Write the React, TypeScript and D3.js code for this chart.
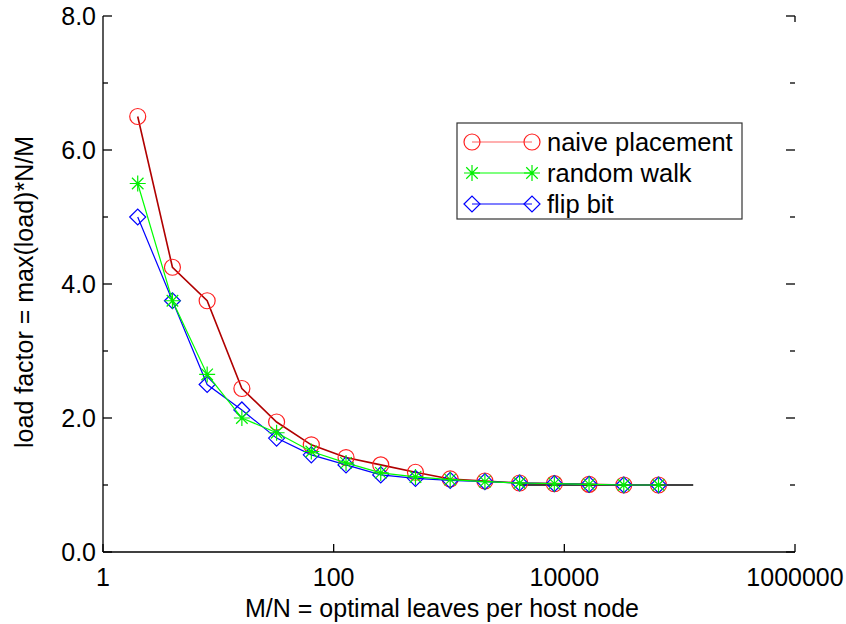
import React from "react";
import * as d3 from "d3";

const xValues = [2, 4, 8, 16, 32, 64, 128, 256, 512, 1024, 2048, 4096, 8192, 16384, 32768, 65536];
const naive = [6.5, 4.25, 3.75, 2.44, 1.94, 1.6, 1.41, 1.3, 1.19, 1.09, 1.06, 1.03, 1.02, 1.01, 1.0, 1.0];
const randomWalk = [5.5, 3.75, 2.65, 2.0, 1.78, 1.5, 1.33, 1.18, 1.12, 1.08, 1.05, 1.03, 1.02, 1.01, 1.0, 1.0];
const flipBit = [5.0, 3.75, 2.5, 2.12, 1.7, 1.45, 1.3, 1.15, 1.1, 1.07, 1.05, 1.03, 1.02, 1.01, 1.0, 1.0];
const optimalX = [4096, 131072];
const optimalY = [1.0, 1.0];

const xTicks = [1, 100, 10000, 1000000];
const xTickLabels = ["1", "100", "10000", "1000000"];
const yMajor = [0, 2, 4, 6, 8];
const yMajorLabels = ["0.0", "2.0", "4.0", "6.0", "8.0"];
const yMinor = [1, 3, 5, 7];

const seriesNames = ["naive placement", "random walk", "flip bit"];

const FONT = "'Liberation Sans', Arial, Helvetica, sans-serif";

function Marker({ kind, x, y, color }: { kind: string; x: number; y: number; color: string }) {
  const r = 8;
  if (kind === "circle") return <circle cx={x} cy={y} r={r} fill="none" stroke={color} strokeWidth={1.2} />;
  if (kind === "diamond")
    return (
      <path
        d={`M${x - r},${y}L${x},${y - r}L${x + r},${y}L${x},${y + r}Z`}
        fill="none"
        stroke={color}
        strokeWidth={1.2}
      />
    );
  const d = r * 0.72;
  return (
    <path
      d={`M${x - r},${y}L${x + r},${y}M${x},${y - r}L${x},${y + r}M${x - d},${y - d}L${x + d},${y + d}M${x - d},${y + d}L${x + d},${y - d}`}
      fill="none"
      stroke={color}
      strokeWidth={1.2}
    />
  );
}

export default function App() {
  const x = d3.scaleLog().domain([1, 1e6]).range([103, 795]);
  const y = d3.scaleLinear().domain([0, 8]).range([552, 16]);
  const line = d3
    .line<[number, number]>()
    .x((d) => x(d[0]))
    .y((d) => y(d[1]));

  const series = [
    { name: seriesNames[0], vals: naive, line: "#b00000", lw: 1.6, mark: "#ff2020", legendLine: "#ff6060", kind: "circle" },
    { name: seriesNames[2], vals: flipBit, line: "#0000ff", lw: 1.2, mark: "#0000ff", legendLine: "#0000ff", kind: "diamond" },
    { name: seriesNames[1], vals: randomWalk, line: "#00ff00", lw: 1.2, mark: "#00ee00", legendLine: "#00ff00", kind: "star" },
  ];
  const legendOrder = [series[0], series[2], series[1]];

  const x0 = x(1);
  const x1 = x(1e6);
  const y0 = y(0);
  const y1 = y(8);

  return (
    <svg width={846} height={624} style={{ position: "absolute", left: 0, top: 0, background: "#fff" }} fontFamily={FONT}>
      <rect width={846} height={624} fill="#fff" />
      <path
        d={line(optimalX.map((v, i) => [v, optimalY[i]]) as [number, number][]) || ""}
        stroke="#000"
        strokeWidth={1.4}
        fill="none"
      />
      {series.map((s) => (
        <g key={s.name}>
          <path
            d={line(xValues.map((v, i) => [v, s.vals[i]]) as [number, number][]) || ""}
            stroke={s.line}
            strokeWidth={s.lw}
            fill="none"
          />
          {xValues.map((v, i) => (
            <Marker key={i} kind={s.kind} x={x(v)} y={y(s.vals[i])} color={s.mark} />
          ))}
        </g>
      ))}
      <g stroke="#000" strokeWidth={1.3} fill="none">
        <line x1={x0} y1={y1} x2={x0} y2={y0} />
        <line x1={x0} y1={y0} x2={x1} y2={y0} />
        {yMajor.map((t) => (
          <g key={"M" + t}>
            <line x1={x0} x2={x0 + 9} y1={y(t)} y2={y(t)} />
            <line x1={x1} x2={x1 - 9} y1={y(t)} y2={y(t)} />
          </g>
        ))}
        {yMinor.map((t) => (
          <g key={"m" + t}>
            <line x1={x0} x2={x0 + 5} y1={y(t)} y2={y(t)} />
            <line x1={x1} x2={x1 - 5} y1={y(t)} y2={y(t)} />
          </g>
        ))}
        {xTicks.map((t) => (
          <line key={"x" + t} x1={x(t)} x2={x(t)} y1={y0} y2={y0 - 8} />
        ))}
        <line x1={x1} x2={x1} y1={y1} y2={y1 + 6} />
      </g>
      <g fontSize={25} fill="#000">
        {yMajor.map((t, i) => (
          <text key={"yl" + t} x={x0 - 7} y={y(t)} dy="0.35em" textAnchor="end">
            {yMajorLabels[i]}
          </text>
        ))}
        {xTicks.map((t, i) => (
          <text key={"xl" + t} x={x(t)} y={y0 + 34} textAnchor="middle">
            {xTickLabels[i]}
          </text>
        ))}
        <text x={(x0 + x1) / 2 - 7} y={617} textAnchor="middle">
          M/N = optimal leaves per host node
        </text>
        <text transform={`translate(33, ${(y0 + y1) / 2 + 8}) rotate(-90)`} textAnchor="middle">
          load factor = max(load)*N/M
        </text>
      </g>
      <g>
        <rect x={457} y={123} width={285} height={96} fill="#fff" stroke="#333" strokeWidth={1.2} />
        {legendOrder.map((s, i) => {
          const ly = 142 + i * 31;
          return (
            <g key={"lg" + s.name}>
              <line x1={472} x2={532} y1={ly} y2={ly} stroke={s.legendLine} strokeWidth={1.2} />
              <Marker kind={s.kind} x={472} y={ly} color={s.mark} />
              <Marker kind={s.kind} x={532} y={ly} color={s.mark} />
              <text x={547} y={ly} dy="0.35em" fontSize={25.5} fill="#000">
                {s.name}
              </text>
            </g>
          );
        })}
      </g>
    </svg>
  );
}
